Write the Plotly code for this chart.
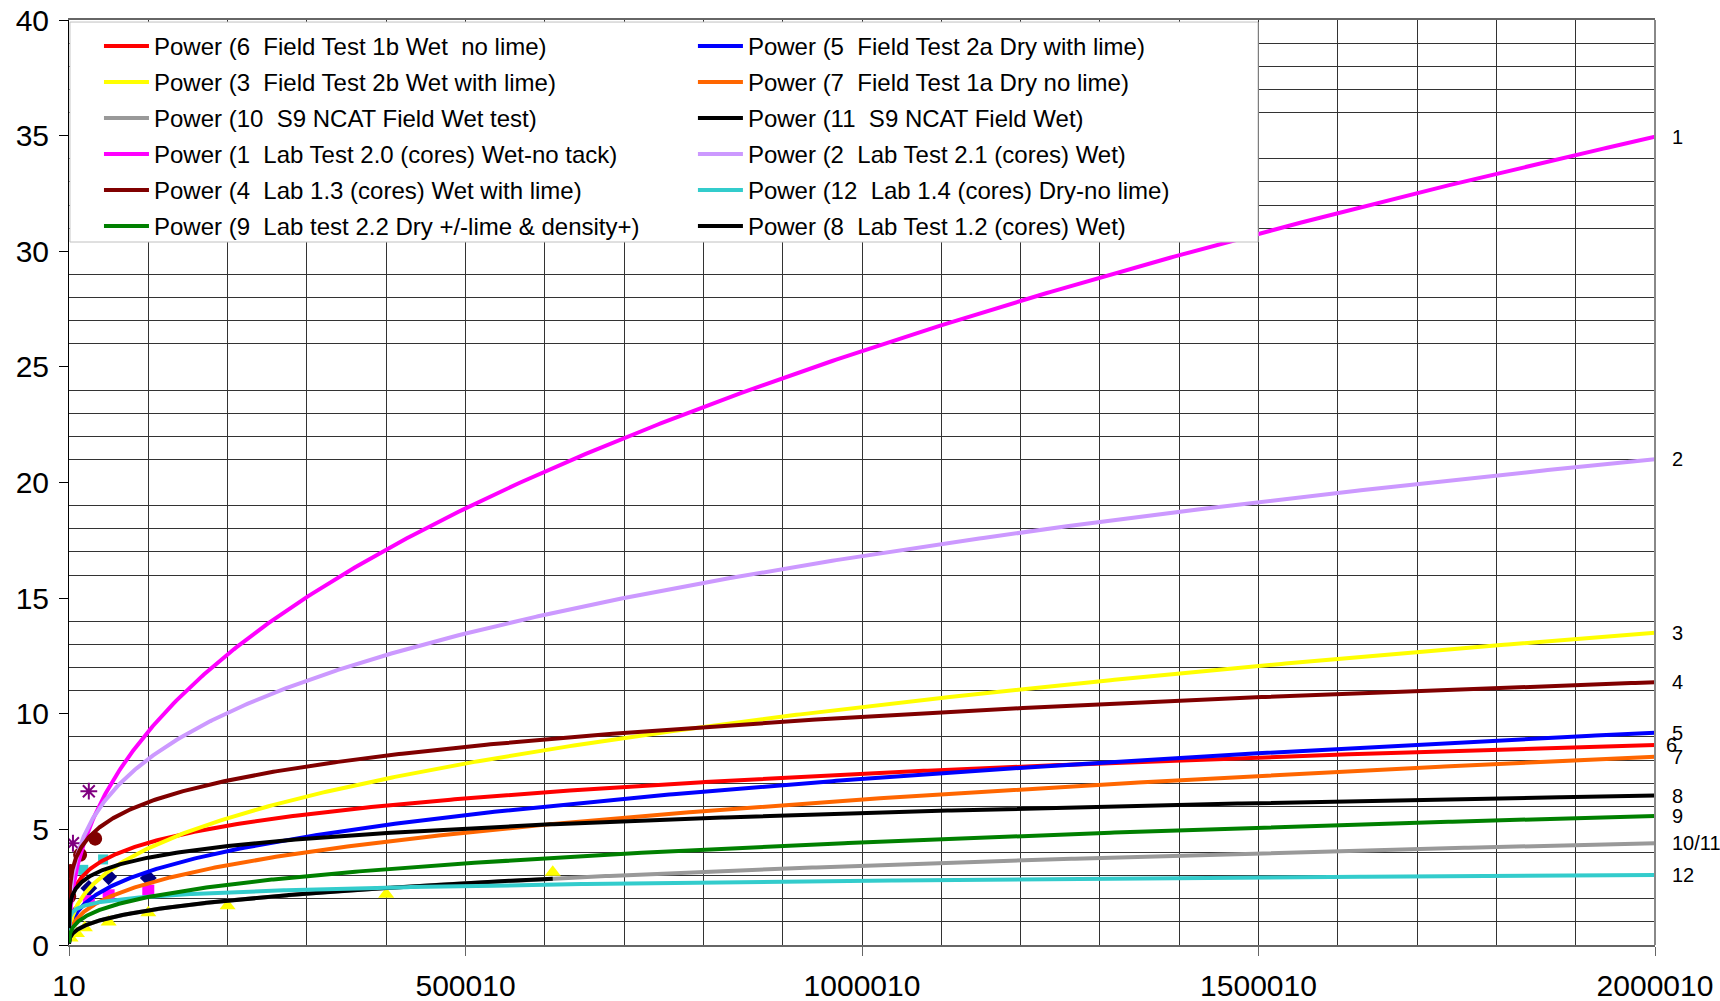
import numpy as np
import plotly.graph_objects as go

# ---------------- data ----------------
# Power trendlines y = a * x^b (Excel series order)
series_num = [6, 5, 3, 7, 10, 11, 1, 2, 4, 12, 9, 8]
series_name = [
    "Power (6\u00a0 Field Test 1b Wet\u00a0 no lime)",
    "Power (5\u00a0 Field Test 2a Dry with lime)",
    "Power (3\u00a0 Field Test 2b Wet with lime)",
    "Power (7\u00a0 Field Test 1a Dry no lime)",
    "Power (10\u00a0 S9 NCAT Field Wet test)",
    "Power (11\u00a0 S9 NCAT Field Wet)",
    "Power (1\u00a0 Lab Test 2.0 (cores) Wet-no tack)",
    "Power (2\u00a0 Lab Test 2.1 (cores) Wet)",
    "Power (4\u00a0 Lab 1.3 (cores) Wet with lime)",
    "Power (12\u00a0 Lab 1.4 (cores) Dry-no lime)",
    "Power (9\u00a0 Lab test 2.2 Dry +/-lime & density+)",
    "Power (8\u00a0 Lab Test 1.2 (cores) Wet)",
]
series_color = ["#FF0000", "#0000FF", "#FFFF00", "#FF6600", "#999999", "#000000",
                "#FF00FF", "#CC99FF", "#800000", "#33CCCC", "#008000", "#000000"]
legend_column = [1, 2, 1, 2, 1, 2, 1, 2, 1, 2, 1, 2]
coef_a = [0.3349, 0.05398, 0.04628, 0.03681, 0.02372, 0.02372,
          0.05553, 0.2011, 0.5948, 0.4984, 0.04628, 0.4812]
exp_b = [0.2241, 0.3540, 0.3912, 0.3721, 0.3600, 0.3600,
         0.4442, 0.3204, 0.2033, 0.1244, 0.3303, 0.1790]
x_start = [10] * 12
x_end = [2000010, 2000010, 2000010, 2000010, 2000010, 610000,
         2000010, 2000010, 2000010, 2000010, 2000010, 2000010]

# measured data points (markers) near the origin
navy_x = [25000, 50000, 100000]
navy_y = [2.45, 2.95, 2.9]
mag_x = [25000, 50000, 100000]
mag_y = [1.9, 2.15, 2.35]
tri_x = [2000, 10000, 20000, 50000, 100000, 200000, 400000, 610000]
tri_y = [0.3, 0.5, 0.75, 1.0, 1.4, 1.7, 2.2, 3.15]
ast_x = [1000, 5000, 25000]
ast_y = [1.4, 4.4, 6.65]
circ_x = [300, 2000, 14000, 33000]
circ_y = [2.1, 3.2, 3.9, 4.6]
cyan_x = [1500, 18000, 43000]
cyan_y = [2.6, 3.25, 3.7]
pale_x = [2500]
pale_y = [3.2]

# curve end labels
end_labels = ["1", "2", "3", "4", "5", "6", "7", "8", "9", "10/11", "12"]
end_label_series = [1, 2, 3, 4, 5, 6, 7, 8, 9, 10, 12]

x_ticks = [10, 500010, 1000010, 1500010, 2000010]
x_range = [10, 2000010]
y_range = [0, 40]

FONT = "Liberation Sans"

fig = go.Figure()

# markers (drawn beneath trendlines)
marker_sets = [
    (navy_x, navy_y, "diamond", "#000080", 13),
    (mag_x, mag_y, "square", "#FF00FF", 12),
    (tri_x, tri_y, "triangle-up", "#FFFF00", 14),
    (cyan_x, cyan_y, "square", "#33CCCC", 10),
    (pale_x, pale_y, "square", "#FFFF99", 12),
    (circ_x, circ_y, "circle", "#800000", 14),
]
for mx, my, sym, col, sz in marker_sets:
    fig.add_trace(go.Scatter(x=mx, y=my, mode="markers", showlegend=False,
                             hoverinfo="skip",
                             marker=dict(symbol=sym, color=col, size=sz)))
fig.add_trace(go.Scatter(x=ast_x, y=ast_y, mode="markers", showlegend=False,
                         hoverinfo="skip",
                         marker=dict(symbol="asterisk-open", size=14,
                                     color="#800080",
                                     line=dict(color="#800080", width=2))))

# trendlines
for i in range(len(series_num)):
    x0, x1 = x_start[i], x_end[i]
    xs = np.unique(np.concatenate([np.geomspace(x0, x1, 400),
                                   np.linspace(x0, x1, 400)]))
    ys = coef_a[i] * xs ** exp_b[i]
    fig.add_trace(go.Scatter(
        x=xs, y=ys, mode="lines", name=series_name[i],
        legend="legend" if legend_column[i] == 1 else "legend2",
        legendgroup="g%d" % series_num[i],
        line=dict(color=series_color[i], width=4)))

# end labels
for lab, s in zip(end_labels, end_label_series):
    i = series_num.index(s)
    yv = coef_a[i] * x_range[1] ** exp_b[i]
    fig.add_annotation(x=x_range[1], y=yv, text=lab, showarrow=False,
                       xanchor="left", yanchor="middle",
                       xshift=9 if lab == "6" else 15,
                       font=dict(family=FONT, size=20, color="black"))

grid_col = "#333333"
leg_common = dict(orientation="v", xanchor="left", yanchor="top",
                  y=0.9959, bgcolor="rgba(0,0,0,0)", borderwidth=0,
                  itemwidth=45, tracegroupgap=1.8, traceorder="grouped",
                  font=dict(family=FONT, size=24, color="black"))
fig.update_layout(
    width=1720, height=1001,
    margin=dict(l=69, r=65, t=20, b=56, pad=0, autoexpand=False),
    paper_bgcolor="white", plot_bgcolor="white",
    font=dict(family=FONT, color="black"),
    xaxis=dict(range=x_range, tickmode="array", tickvals=x_ticks,
               tickformat="d", showgrid=False, zeroline=False,
               automargin=False,
               ticks="outside", ticklen=9, tickcolor="#666666",
               tickfont=dict(family=FONT, size=30, color="black"),
               ticklabelstandoff=4,
               showline=True, linecolor="#666666", linewidth=2, mirror=True,
               minor=dict(tick0=10, dtick=100000, showgrid=True,
                          gridcolor=grid_col, gridwidth=1, ticks="")),
    yaxis=dict(range=y_range, tick0=0, dtick=5, showgrid=False, zeroline=False,
               automargin=False,
               ticks="outside", ticklen=9, tickcolor="black",
               tickfont=dict(family=FONT, size=30, color="black"),
               ticklabelstandoff=4,
               showline=True, linecolor="black", linewidth=1,
               minor=dict(tick0=0, dtick=1, showgrid=True,
                          gridcolor=grid_col, gridwidth=1, ticks="")),
    legend=dict(x=0.0189, **leg_common),
    legend2=dict(x=0.3934, **leg_common),
    shapes=[
        # legend box
        dict(type="rect", xref="paper", yref="paper", x0=0.0006, x1=0.7497,
             y0=0.76, y1=0.9978, layer="above", fillcolor="white",
             line=dict(color="#c0c0c0", width=1)),
        # right border of the plot area
        dict(type="line", xref="paper", yref="paper", x0=1, x1=1,
             y0=0, y1=1, line=dict(color="#888888", width=2)),
    ],
)

fig.write_html("out.html", config={"displayModeBar": False},
               post_script="document.body.style.margin='0';")
